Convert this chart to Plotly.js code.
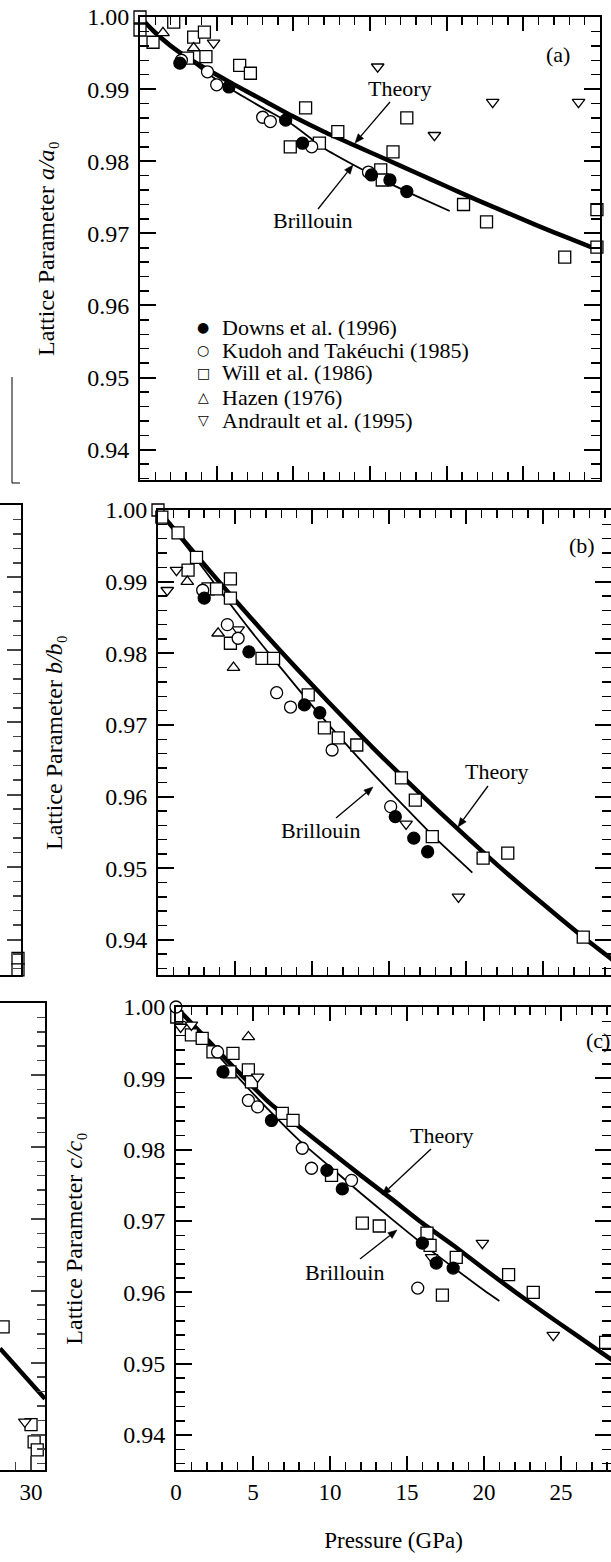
<!DOCTYPE html>
<html>
<head>
<meta charset="utf-8">
<script src="https://cdn.plot.ly/plotly-3.0.1.min.js"></script>
<style>html,body{margin:0;padding:0;background:#fff;}#chart{width:611px;height:1562px;}</style>
</head>
<body>
<div id="chart"></div>
<script>
// ---------------- Panel (a): a/a0 ----------------
const a_theory_p = [0,1,2,3,4,6,8,10,12,14,16,18,20,22,24,26,28,30];
const a_theory_v = [1.0,0.9978,0.9960,0.9945,0.9932,0.9908,0.9885,0.9862,0.9841,0.9822,0.9803,0.9784,0.9765,0.9746,0.9728,0.9710,0.9693,0.9676];
const a_brill_p = [0,2,4,6,8,10,12,14,16,18,20.2];
const a_brill_v = [1.0,0.9962,0.9928,0.9899,0.9874,0.9850,0.9818,0.9794,0.9772,0.9752,0.9731];
const a_downs_p = [2.6,5.8,9.5,10.6,15.1,16.3,17.4];
const a_downs_v = [0.9936,0.9903,0.9857,0.9825,0.9781,0.9774,0.9758];
const a_kudoh_p = [2.7,4.4,5.0,8.0,8.5,11.2,14.9];
const a_kudoh_v = [0.9940,0.9924,0.9906,0.9861,0.9855,0.9820,0.9785];
const a_will_p = [0,0,0.85,2.2,3.1,3.5,4.2,4.3,6.5,7.2,9.8,10.8,11.7,12.9,15.7,15.8,16.5,17.4,21.1,22.6,27.7,29.8,29.8];
const a_will_v = [1.0,0.9982,0.9965,0.9993,0.9943,0.9972,0.9979,0.9945,0.9933,0.9922,0.9820,0.9874,0.9825,0.9841,0.9788,0.9774,0.9813,0.9860,0.9740,0.9716,0.9667,0.9733,0.9681];
const a_hazen_p = [1.5,3.5];
const a_hazen_v = [0.9978,0.9957];
const a_andr_p = [4.8,15.5,19.2,23.0,28.6];
const a_andr_v = [0.9964,0.9931,0.9836,0.9882,0.9882];

// ---------------- Panel (b): b/b0 ----------------
const b_theory_p = [0,2,4,6,8,10,12,14,16,18,20,22,24,26,28,30];
const b_theory_v = [1.0,0.9949,0.9899,0.9850,0.9802,0.9756,0.9711,0.9667,0.9625,0.9584,0.9544,0.9505,0.9468,0.9432,0.9397,0.9364];
const b_brill_p = [0,2,4,6,8,10,12,14,16,18,20.4];
const b_brill_v = [1.0,0.9945,0.9888,0.9832,0.9779,0.9727,0.9678,0.9631,0.9586,0.9542,0.9494];
const b_downs_p = [3.0,5.9,9.5,10.5,15.4,16.6,17.5];
const b_downs_v = [0.9877,0.9802,0.9728,0.9717,0.9572,0.9542,0.9523];
const b_kudoh_p = [2.9,4.5,5.2,7.7,8.6,11.3,15.1];
const b_kudoh_v = [0.9888,0.9840,0.9821,0.9745,0.9725,0.9665,0.9586];
const b_will_p = [0,0.25,1.3,2.5,1.95,3.25,3.8,4.7,4.7,4.7,6.75,7.5,9.75,10.8,11.7,12.9,15.8,16.7,17.8,21.1,22.7,27.6];
const b_will_v = [1.0,0.9990,0.9968,0.9934,0.9916,0.9890,0.9890,0.9904,0.9877,0.9814,0.9793,0.9793,0.9742,0.9696,0.9682,0.9672,0.9626,0.9595,0.9544,0.9514,0.9521,0.9404];
const b_hazen_p = [1.9,3.9,4.9];
const b_hazen_v = [0.9900,0.9828,0.9780];
const b_andr_p = [1.2,0.6,5.2,16.1,19.5];
const b_andr_v = [0.9916,0.9888,0.9833,0.9562,0.9460];

// ---------------- Panel (c): c/c0 ----------------
const c_theory_p = [0,2,4,6,8,10,12,14,16,18,20,22,24,26,28,30];
const c_theory_v = [1.0,0.9955,0.9910,0.9867,0.9832,0.9798,0.9764,0.9731,0.9697,0.9666,0.9633,0.9601,0.9570,0.9540,0.9510,0.9480];
const c_brill_p = [0,2,4,6,8,10,12,14,16,18,20,21];
const c_brill_v = [1.0,0.9950,0.9902,0.9856,0.9813,0.9776,0.9739,0.9703,0.9668,0.9635,0.9603,0.9588];
const c_downs_p = [3.05,6.2,9.8,10.8,16.0,16.9,18.0];
const c_downs_v = [0.9909,0.9841,0.9771,0.9745,0.9669,0.9641,0.9634];
const c_kudoh_p = [0,2.7,4.7,5.3,8.2,8.8,11.4,15.7];
const c_kudoh_v = [1.0,0.9937,0.9869,0.9860,0.9802,0.9774,0.9757,0.9606];
const c_will_p = [0.05,1.0,1.7,2.4,3.7,3.5,4.7,4.9,6.9,7.6,10.1,12.1,13.2,16.3,16.5,18.2,17.3,21.6,23.2,27.9];
const c_will_v = [0.9986,0.9961,0.9956,0.9937,0.9935,0.9909,0.9912,0.9895,0.9851,0.9841,0.9764,0.9697,0.9693,0.9683,0.9666,0.9649,0.9596,0.9625,0.9600,0.9530];
const c_hazen_p = [4.7];
const c_hazen_v = [0.9958];
const c_andr_p = [0.3,1.0,5.3,16.6,19.9,24.5];
const c_andr_v = [0.9972,0.9975,0.9902,0.9649,0.9669,0.9540];

// ---------------- neighbouring fragments at the left edge ----------------
const f1_will_p = [29.8,29.8];
const f1_will_v = [0.9374,0.9358];
const f2_line_p = [28.0,30.9];
const f2_line_v = [0.9520,0.9450];
const f2_will_p = [28.2,30.0,30.2,30.4];
const f2_will_v = [0.9550,0.9414,0.9390,0.9379];
const f2_andr_p = [29.6];
const f2_andr_v = [0.9418];

const legendNames = ["Downs et al. (1996)","Kudoh and Takéuchi (1985)","Will et al. (1986)","Hazen (1976)","Andrault et al. (1995)"];
const legendGlyphs = ["●","○","□","△","▽"];
const yTitles = ["Lattice Parameter <i>a/a</i>₀","Lattice Parameter <i>b/b</i>₀","Lattice Parameter <i>c/c</i>₀"];

const SERIF = "Liberation Serif, DejaVu Serif, Times New Roman, serif";
const traces = [];
function line(xs, ys, w, xa, ya){
  traces.push({x:xs,y:ys,mode:'lines',line:{color:'black',width:w,shape:'spline',smoothing:0.6},xaxis:xa,yaxis:ya,showlegend:false,hoverinfo:'skip'});
}
function pts(xs, ys, sym, filled, size, xa, ya, name){
  traces.push({x:xs,y:ys,mode:'markers',name:name,marker:{symbol:sym,size:size,color:filled?'black':'white',line:{color:'black',width:1.3}},xaxis:xa,yaxis:ya,showlegend:false,cliponaxis:false});
}
function panel(xa, ya, tp, tv, bp, bv, d, k, w, h, an){
  line(tp, tv, 4.5, xa, ya);
  line(bp, bv, 1.8, xa, ya);
  pts(w[0], w[1], 'square', false, 12, xa, ya, legendNames[2]);
  pts(h[0], h[1], 'triangle-up', false, 11, xa, ya, legendNames[3]);
  pts(an[0], an[1], 'triangle-down', false, 11, xa, ya, legendNames[4]);
  pts(k[0], k[1], 'circle', false, 12, xa, ya, legendNames[1]);
  pts(d[0], d[1], 'circle', true, 12, xa, ya, legendNames[0]);
}
panel('x','y',a_theory_p,a_theory_v,a_brill_p,a_brill_v,[a_downs_p,a_downs_v],[a_kudoh_p,a_kudoh_v],[a_will_p,a_will_v],[a_hazen_p,a_hazen_v],[a_andr_p,a_andr_v]);
panel('x2','y2',b_theory_p,b_theory_v,b_brill_p,b_brill_v,[b_downs_p,b_downs_v],[b_kudoh_p,b_kudoh_v],[b_will_p,b_will_v],[b_hazen_p,b_hazen_v],[b_andr_p,b_andr_v]);
panel('x3','y3',c_theory_p,c_theory_v,c_brill_p,c_brill_v,[c_downs_p,c_downs_v],[c_kudoh_p,c_kudoh_v],[c_will_p,c_will_v],[c_hazen_p,c_hazen_v],[c_andr_p,c_andr_v]);
pts(f1_will_p, f1_will_v, 'square', false, 12, 'x4','y4', legendNames[2]);
line(f2_line_p, f2_line_v, 4.5, 'x5','y5');
pts(f2_will_p, f2_will_v, 'square', false, 12, 'x5','y5', legendNames[2]);
pts(f2_andr_p, f2_andr_v, 'triangle-down', false, 11, 'x5','y5', legendNames[4]);

const W = 611, H = 1562;
const px = v => v / W, py = v => 1 - v / H;

function xax(d0, d1, r, anchor, labels, title){
  const o = {domain:[px(d0), Math.min(1, px(d1))], range:r, anchor:anchor, showline:true, linecolor:'black', linewidth:2,
    mirror:'ticks', ticks:'inside', ticklen:14, tickwidth:2, tickcolor:'black', tick0:0, dtick:5,
    minor:{dtick:1, ticks:'inside', ticklen:8, tickwidth:1.5, tickcolor:'black', showgrid:false},
    showgrid:false, zeroline:false, showticklabels:labels,
    tickfont:{family:SERIF, size:23, color:'black'}};
  if (title) o.title = {text:title, font:{family:SERIF, size:23, color:'black'}, standoff:28};
  return o;
}
function yax(d0, d1, r, anchor, title, standoff){
  return {domain:[py(d1), py(d0)], range:r, anchor:anchor, showline:true, linecolor:'black', linewidth:2,
    mirror:'ticks', ticks:'inside', ticklen:16, tickwidth:2, tickcolor:'black', tick0:0, dtick:0.01, tickformat:'.2f',
    minor:{dtick:0.002, ticks:'inside', ticklen:9, tickwidth:1.5, tickcolor:'black', showgrid:false},
    showgrid:false, zeroline:false, ticklabelstandoff:4,
    tickfont:{family:SERIF, size:24, color:'black'},
    title:{text:title, font:{family:SERIF, size:24, color:'black'}, standoff:standoff}};
}

const shapes = [
  {type:'line', xref:'paper', yref:'paper', x0:px(12), x1:px(12), y0:py(377), y1:py(483), line:{color:'black', width:1}},
  {type:'line', xref:'paper', yref:'paper', x0:px(12), x1:px(20), y0:py(483), y1:py(483), line:{color:'black', width:1}}
];
// pointer arrows drawn as shapes: tail (tx,ty) -> head (hx,hy), pixel positions
function arrow(tx, ty, hx, hy){
  const dx = hx - tx, dy = hy - ty, L = Math.hypot(dx, dy), ux = dx / L, uy = dy / L;
  const bx = hx - 9 * ux, by = hy - 9 * uy, nx = -uy, ny = ux;
  shapes.push({type:'line', xref:'paper', yref:'paper', x0:px(tx), y0:py(ty), x1:px(bx), y1:py(by), line:{color:'black', width:1.3}});
  shapes.push({type:'path', xref:'paper', yref:'paper',
    path:`M ${px(hx)} ${py(hy)} L ${px(bx + 3.6*nx)} ${py(by + 3.6*ny)} L ${px(bx - 3.6*nx)} ${py(by - 3.6*ny)} Z`,
    fillcolor:'black', line:{color:'black', width:0.5}});
}
arrow(390,102, 355,143);
arrow(318,209, 353,165);
arrow(488,786, 458,827);
arrow(336,818, 373,787);
arrow(431,1149, 382,1195);
arrow(360,1259, 397,1230);

const layout = {
  width:W, height:H, margin:{l:0,r:0,t:0,b:0}, paper_bgcolor:'white', plot_bgcolor:'white', showlegend:false,
  font:{family:SERIF, color:'black'},
  xaxis: xax(140, 600, [0,30], 'y', false),
  yaxis: yax(17, 480, [0.9358,1.0], 'x', yTitles[0], 26),
  xaxis2: xax(158, 611, [0,29.4], 'y2', false),
  yaxis2: yax(510, 975, [0.9351,1.0], 'x2', yTitles[1], 36),
  xaxis3: xax(176, 611, [0,28.25], 'y3', true, 'Pressure (GPa)'),
  yaxis3: yax(1007, 1470, [0.9351,1.0], 'x3', yTitles[2], 34),
  xaxis4: {domain:[0, px(21)], range:[28.6,30], anchor:'y4', showline:true, linecolor:'black', linewidth:2, mirror:true, ticks:'', showticklabels:false, showgrid:false, zeroline:false},
  yaxis4: {domain:[py(975), py(505)], range:[0.9351,1.0], anchor:'x4', side:'right', showline:true, linecolor:'black', linewidth:2, ticks:'inside', ticklen:14, tickwidth:2, dtick:0.01, tick0:0,
    minor:{dtick:0.002, ticks:'inside', ticklen:8, tickwidth:1.5}, showticklabels:false, showgrid:false, zeroline:false},
  xaxis5: {domain:[0, px(45)], range:[28,30.9], anchor:'y5', showline:true, linecolor:'black', linewidth:2, mirror:true, ticks:'inside', ticklen:14, tickwidth:2, tick0:0, dtick:5,
    minor:{dtick:1, ticks:'inside', ticklen:8, tickwidth:1.5}, showticklabels:true, tickfont:{family:SERIF, size:23, color:'black'}, showgrid:false, zeroline:false},
  yaxis5: {domain:[py(1470), py(1003)], range:[0.9351,1.0], anchor:'x5', side:'right', showline:true, linecolor:'black', linewidth:2, ticks:'inside', ticklen:14, tickwidth:2, dtick:0.01, tick0:0,
    minor:{dtick:0.002, ticks:'inside', ticklen:8, tickwidth:1.5}, showticklabels:false, showgrid:false, zeroline:false},
  shapes: shapes,
  annotations:[]
};

const A = layout.annotations;
function txt(t, x, y, size, anchor){
  A.push({text:t, x:px(x), y:py(y), xref:'paper', yref:'paper', showarrow:false, xanchor:anchor||'center', yanchor:'middle',
    font:{family:SERIF, size:size||22, color:'black'}});
}
txt('(a)', 558, 55);
txt('Theory', 400, 88);
txt('Brillouin', 312, 220);
txt('(b)', 582, 546);
txt('Theory', 497, 772);
txt('Brillouin', 320, 830);
txt('(c)', 598, 1040);
txt('Theory', 442, 1135);
txt('Brillouin', 344, 1272);

const legRows = [327, 350, 373, 397, 420];
for (let i = 0; i < legendNames.length; i++){
  A.push({text:legendGlyphs[i], x:px(203), y:py(legRows[i]), xref:'paper', yref:'paper', showarrow:false, xanchor:'center', yanchor:'middle',
    font:{family:'DejaVu Sans', size:14, color:'black'}});
  txt(legendNames[i], 220, legRows[i], 22, 'left');
}

Plotly.newPlot('chart', traces, layout, {staticPlot:true, displayModeBar:false});
</script>
</body>
</html>
